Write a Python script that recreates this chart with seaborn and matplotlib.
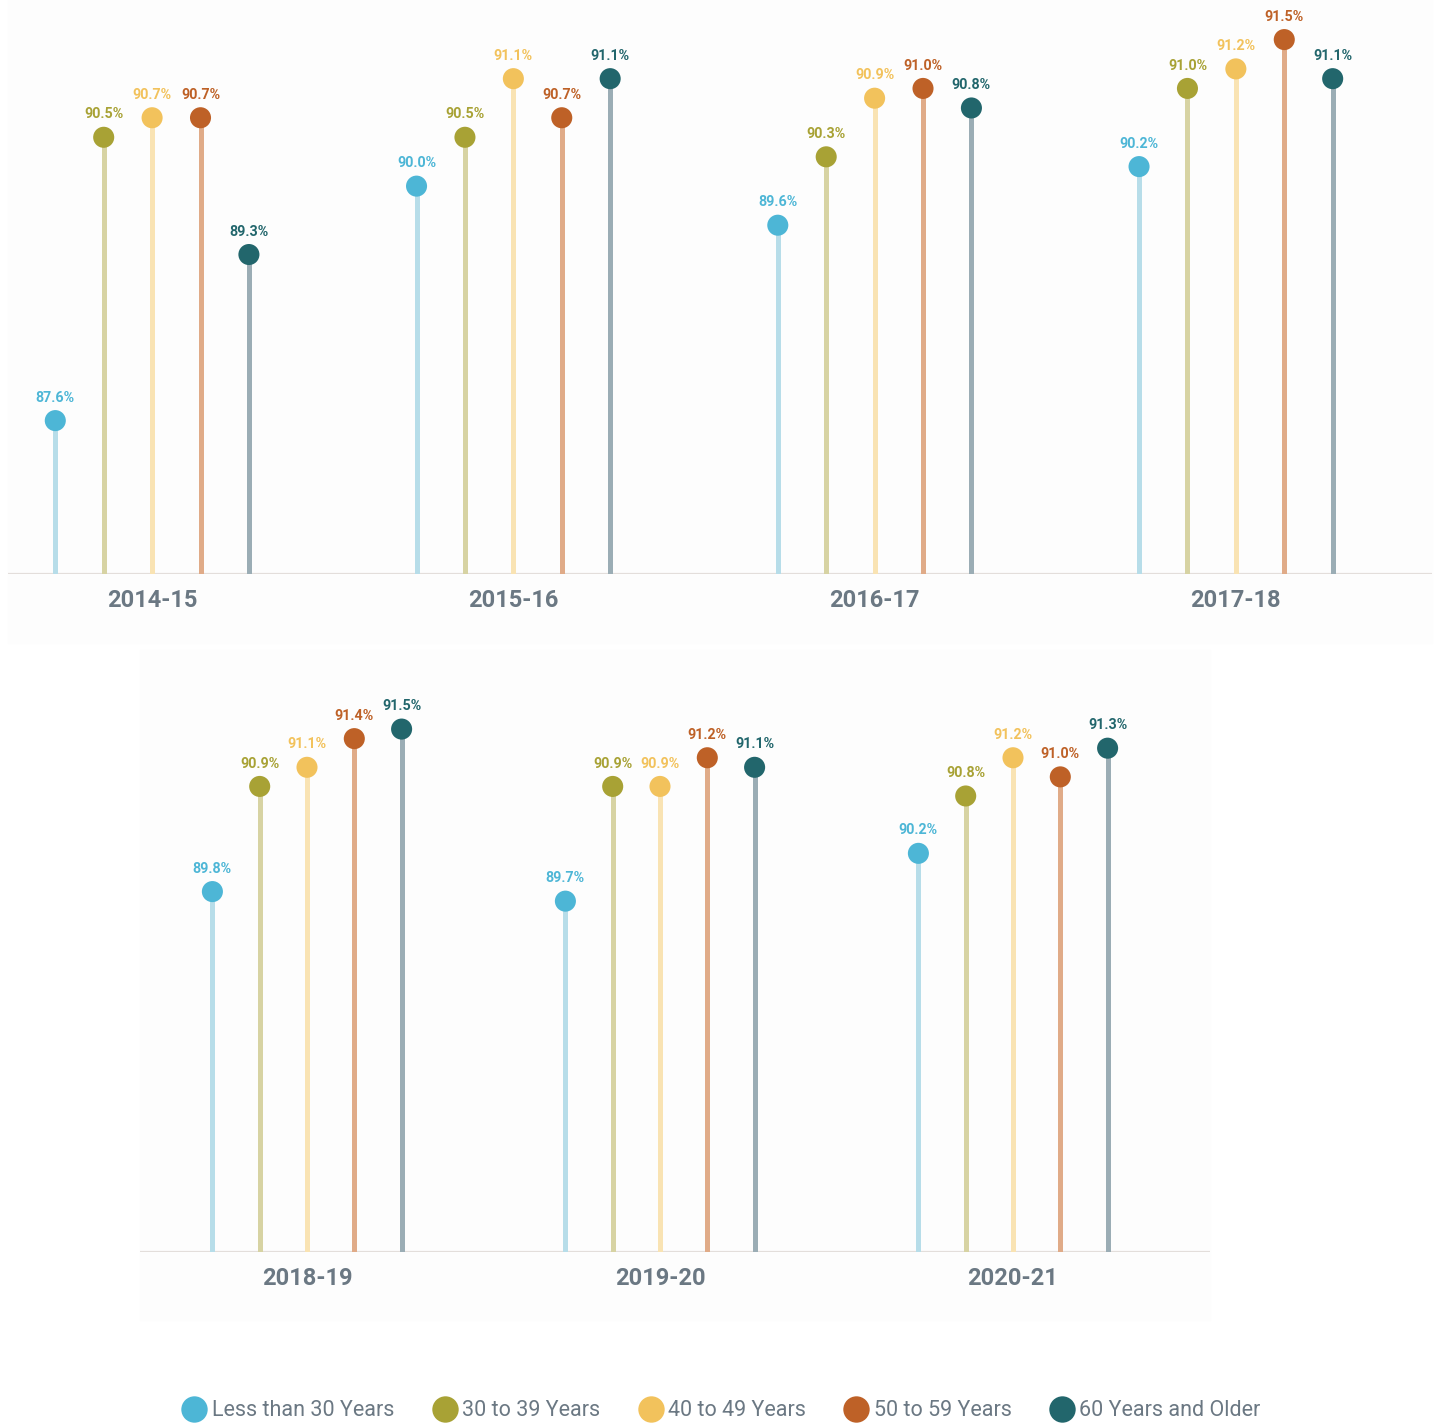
import numpy as np
import pandas as pd
import matplotlib
matplotlib.use("Agg")
import matplotlib.pyplot as plt
from matplotlib.lines import Line2D
from matplotlib.patches import Rectangle
import seaborn as sns

# ---- data -------------------------------------------------------------
years_top = ["2014-15", "2015-16", "2016-17", "2017-18"]
years_bottom = ["2018-19", "2019-20", "2020-21"]
age_groups = ["Less than 30 Years", "30 to 39 Years", "40 to 49 Years",
              "50 to 59 Years", "60 Years and Older"]

under_30 = [87.6, 90.0, 89.6, 90.2, 89.8, 89.7, 90.2]
age_30_39 = [90.5, 90.5, 90.3, 91.0, 90.9, 90.9, 90.8]
age_40_49 = [90.7, 91.1, 90.9, 91.2, 91.1, 90.9, 91.2]
age_50_59 = [90.7, 90.7, 91.0, 91.5, 91.4, 91.2, 91.0]
age_60_plus = [89.3, 91.1, 90.8, 91.1, 91.5, 91.1, 91.3]

# ---- styling ----------------------------------------------------------
dot_colors = ["#4db6d6", "#a8a235", "#f2c25c", "#be6127", "#22666c"]
stem_colors = ["#b7dde9", "#d7d3a3", "#f9e3b3", "#e0ab88", "#9badb5"]
text_gray = "#6b7883"
panel_bg = "#fdfdfd"

sns.set_theme(style="white")
plt.rcParams["font.family"] = ["Roboto", "DejaVu Sans"]

series = [under_30, age_30_39, age_40_49, age_50_59, age_60_plus]
all_years = years_top + years_bottom
records = []
for g, vals in zip(age_groups, series):
    for yr, v in zip(all_years, vals):
        records.append({"year": yr, "group": g, "value": v})
df = pd.DataFrame(records)

fig = plt.figure(figsize=(14.4, 14.27), dpi=100)
W, H = 1440, 1427

# faint panel backgrounds
fig.patches.append(Rectangle((8 / W, 1 - 643 / H), 1424 / W, 643 / H,
                             transform=fig.transFigure, color=panel_bg, zorder=-5))
fig.patches.append(Rectangle((140 / W, 1 - 1320 / H), 1070 / W, 670 / H,
                             transform=fig.transFigure, color=panel_bg, zorder=-5))

offset = 0.134
baseline = 86.03


def draw_panel(ax, years, xlim, ylim):
    sub = df[df["year"].isin(years)].copy()
    yidx = {y: i for i, y in enumerate(years)}
    gidx = {g: i for i, g in enumerate(age_groups)}
    sub["x"] = [yidx[y] + (gidx[g] - 2) * offset for y, g in zip(sub["year"], sub["group"])]

    for g, sc in zip(age_groups, stem_colors):
        s = sub[sub["group"] == g]
        ax.vlines(s["x"], baseline, s["value"], colors=sc, lw=3.6, zorder=1)

    sns.scatterplot(data=sub, x="x", y="value", hue="group", hue_order=age_groups,
                    palette=dot_colors, s=230, edgecolor="none", legend=False,
                    ax=ax, zorder=3)

    for _, r in sub.iterrows():
        c = dot_colors[gidx[r["group"]]]
        ax.annotate(f"{r['value']:.1f}%", (r["x"], r["value"]), xytext=(0, 16.5),
                    textcoords="offset points", ha="center", va="center",
                    fontsize=10.3, fontweight="bold", color=c)

    ax.axhline(baseline, color="#e3dedb", lw=1.6, zorder=0)
    ax.set_xlim(*xlim)
    ax.set_ylim(*ylim)
    ax.set_xticks(range(len(years)))
    ax.set_xticklabels(years, fontsize=17, fontweight="bold", color=text_gray)
    ax.tick_params(axis="x", length=0, pad=11)
    ax.set_yticks([])
    ax.set_xlabel("")
    ax.set_ylabel("")
    for sp in ax.spines.values():
        sp.set_visible(False)
    ax.set_facecolor(panel_bg)


ax_top = fig.add_axes([8 / W, 1 - 574 / H, 1424 / W, 574 / H])
draw_panel(ax_top, years_top, (-144 / 361, 3 + 196 / 361), (baseline, baseline + 574 / 97.7))

ax_bot = fig.add_axes([140 / W, 1 - 1252 / H, 1070 / W, 592 / H])
draw_panel(ax_bot, years_bottom, (-167 / 353, 2 + 197 / 353), (baseline, baseline + 592 / 95.6))

handles = [Line2D([0], [0], marker="o", ls="none", markersize=19,
                  markerfacecolor=c, markeredgecolor="none") for c in dot_colors]
fig.legend(handles, age_groups, loc="center", bbox_to_anchor=(721 / W, 1 - 1411 / H),
           ncol=5, frameon=False, fontsize=15.5, labelcolor=text_gray,
           handletextpad=0.2, columnspacing=1.75, handlelength=1.2)

fig.savefig("out.png", dpi=100, facecolor="white")
